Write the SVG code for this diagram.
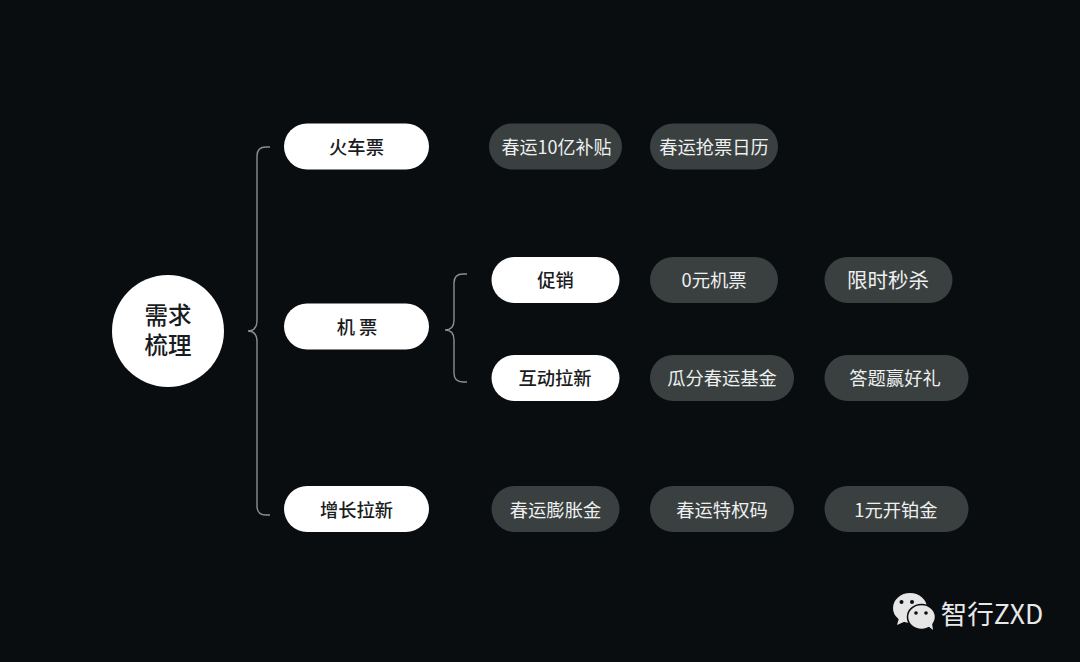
<svg xmlns="http://www.w3.org/2000/svg" width="1080" height="662" viewBox="0 0 1080 662">
<style>
text{font-family:"Noto Sans CJK SC","Noto Sans",sans-serif;text-anchor:middle;dominant-baseline:central;font-size:18.300px}
.w{fill:#fff}.d{fill:#3a4040}
.wt{fill:#1a1c1e;font-weight:500}
.dt{fill:#eef0f0;font-weight:400}
.c{fill:none;stroke:#8b8f90;stroke-width:1.4}
</style>
<rect width="1080" height="662" fill="#0a0d10"/>
<g id="connectors">
<path class="c" d="M270 147H266Q257 147 257 156V320Q257 331 248 331Q257 331 257 342V506Q257 515 266 515H270"/>
<path class="c" d="M467 274H463Q454 274 454 283V320Q454 330 445 330Q454 330 454 340V373Q454 382 463 382H467"/>
</g>
<g id="root"><circle class="w" cx="168" cy="331" r="56"/><text class="wt" style="font-size:23.500px"><tspan x="168" y="313.500">需求</tspan><tspan x="168" y="343.500">梳理</tspan></text></g>
<g id="n-huoche"><rect class="w" x="284" y="123.500" width="145" height="46" rx="23"/><text class="wt" x="356.500" y="146">火车票</text></g>
<g id="n-jipiao"><rect class="w" x="284" y="303.500" width="145" height="46" rx="23"/><text class="wt" x="357" y="326">机 票</text></g>
<g id="n-zengzhang"><rect class="w" x="284" y="486" width="145" height="46" rx="23"/><text class="wt" x="356.500" y="509">增长拉新</text></g>
<g id="n-cuxiao"><rect class="w" x="491.500" y="257" width="128" height="46" rx="23"/><text class="wt" x="555.500" y="279">促销</text></g>
<g id="n-hudong"><rect class="w" x="491.500" y="355" width="128" height="46" rx="23"/><text class="wt" x="555" y="377">互动拉新</text></g>
<g id="t1"><rect class="d" x="489" y="123.500" width="133" height="46" rx="23"/><text class="dt" x="556.500" y="146" style="font-size:18px">春运10亿补贴</text></g>
<g id="t2"><rect class="d" x="650" y="123.500" width="128" height="46" rx="23"/><text class="dt" x="714" y="146">春运抢票日历</text></g>
<g id="t3"><rect class="d" x="650" y="257" width="128" height="46" rx="23"/><text class="dt" x="714" y="279">0元机票</text></g>
<g id="t4"><rect class="d" x="824.500" y="257" width="128" height="46" rx="23"/><text class="dt" x="888" y="279" style="font-size:20.500px">限时秒杀</text></g>
<g id="t5"><rect class="d" x="650" y="355" width="144" height="46" rx="23"/><text class="dt" x="722" y="377">瓜分春运基金</text></g>
<g id="t6"><rect class="d" x="824.500" y="355" width="144" height="46" rx="23"/><text class="dt" x="895" y="377">答题赢好礼</text></g>
<g id="t7"><rect class="d" x="491.500" y="486" width="128" height="46" rx="23"/><text class="dt" x="555.500" y="509">春运膨胀金</text></g>
<g id="t8"><rect class="d" x="650" y="486" width="144" height="46" rx="23"/><text class="dt" x="722" y="509">春运特权码</text></g>
<g id="t9"><rect class="d" x="824.500" y="486" width="144" height="46" rx="23"/><text class="dt" x="896" y="509">1元开铂金</text></g>
<g id="watermark">
<ellipse cx="910" cy="608" rx="17" ry="15" fill="#e6e6e6"/><path d="M899 618l-2 7 9-4z" fill="#e6e6e6"/>
<ellipse cx="921.500" cy="617" rx="14" ry="12.500" fill="#e6e6e6" stroke="#0a0d10" stroke-width="1.500"/><path d="M928 626l5 4-1-7z" fill="#e6e6e6"/>
<circle cx="901.500" cy="602" r="2" fill="#0a0d10"/><circle cx="912" cy="602" r="2" fill="#0a0d10"/>
<circle cx="916" cy="613" r="1.800" fill="#0a0d10"/><circle cx="926" cy="613" r="1.800" fill="#0a0d10"/>
<text x="992" y="612" style="font-size:26.500px" fill="#e8e8e8">智行ZXD</text>
</g>
</svg>
